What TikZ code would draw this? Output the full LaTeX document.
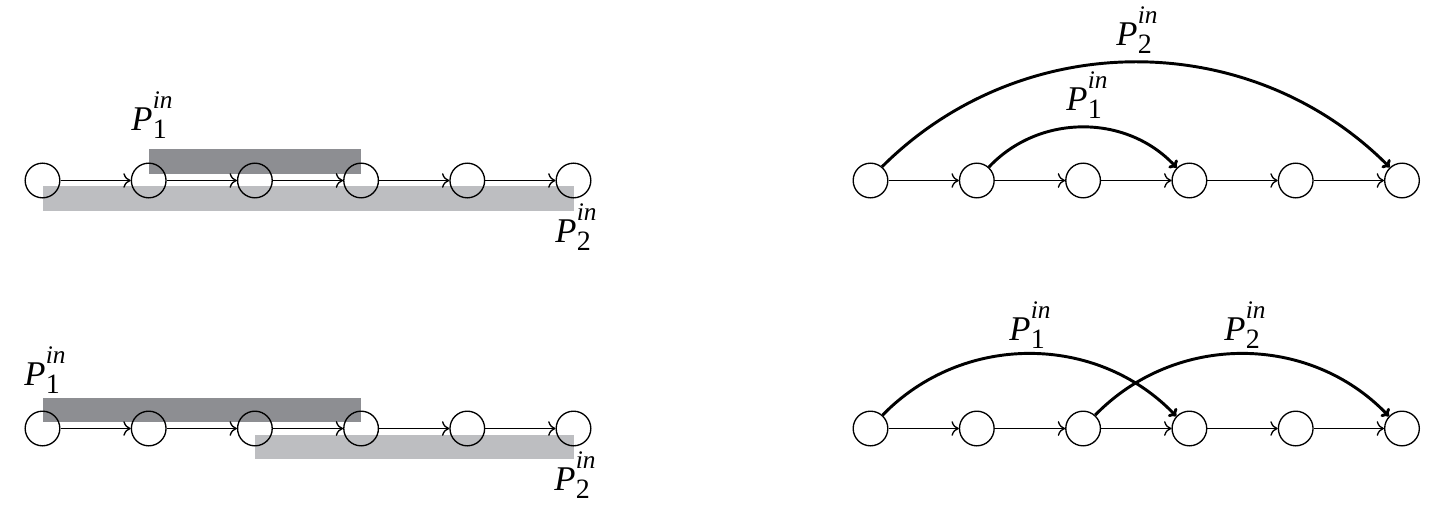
\documentclass[tikz,border=0pt]{standalone}
\usepackage{fontspec}
\setmainfont{Liberation Serif}
\usetikzlibrary{arrows.meta,backgrounds}

\definecolor{darkbar}{RGB}{141,142,146}
\definecolor{lightbar}{RGB}{189,190,193}
%P with large sub- and superscript, as in the picture
\newcommand{\pin}[1]{\textit{P}\kern0.3pt\rlap{\raisebox{-6pt}{\fontsize{21}{21}\selectfont #1}}\raisebox{16pt}{\fontsize{19}{19}\selectfont\textit{in}}}

\tikzset{
  vertex/.style={circle,draw,line width=1pt,minimum size=26pt,inner sep=0pt},
  flow/.style={-{To[length=5.5pt,width=11pt]},line width=1pt},
  jump/.style={-{To[length=5pt,width=9pt]},line width=2.2pt},
  plbl/.style={anchor=base west,inner sep=0pt,font=\fontsize{26}{30}\selectfont},
}

\begin{document}
\begin{tikzpicture}[x=0.75pt,y=0.75pt,yscale=-1,xscale=1]
\useasboundingbox (0,0) rectangle (1445,514);

%Top left chain
\node [vertex] (a1) at (42.5,180.5) {};
\node [vertex] (a2) at (148.7,180.5) {};
\node [vertex] (a3) at (254.9,180.5) {};
\node [vertex] (a4) at (361.1,180.5) {};
\node [vertex] (a5) at (467.3,180.5) {};
\node [vertex] (a6) at (573.5,180.5) {};
%Bottom left chain
\node [vertex] (b1) at (42.5,428.5) {};
\node [vertex] (b2) at (148.7,428.5) {};
\node [vertex] (b3) at (254.9,428.5) {};
\node [vertex] (b4) at (361.1,428.5) {};
\node [vertex] (b5) at (467.3,428.5) {};
\node [vertex] (b6) at (573.5,428.5) {};
%Top right chain
\node [vertex] (c1) at (870.5,180.5) {};
\node [vertex] (c2) at (976.8,180.5) {};
\node [vertex] (c3) at (1083.1,180.5) {};
\node [vertex] (c4) at (1189.4,180.5) {};
\node [vertex] (c5) at (1295.7,180.5) {};
\node [vertex] (c6) at (1402,180.5) {};
%Bottom right chain
\node [vertex] (d1) at (870.5,428.5) {};
\node [vertex] (d2) at (976.8,428.5) {};
\node [vertex] (d3) at (1083.1,428.5) {};
\node [vertex] (d4) at (1189.4,428.5) {};
\node [vertex] (d5) at (1295.7,428.5) {};
\node [vertex] (d6) at (1402,428.5) {};

%Shaded bars (y runs downwards, so a negative yshift moves up)
\begin{scope}[on background layer]
\fill [darkbar] ([yshift=-23.3pt]a2.center) rectangle ([yshift=-4.9pt]a4.center);
\fill [lightbar] ([yshift=4.2pt]a1.center) rectangle ([yshift=22.9pt]a6.center);
\fill [darkbar] ([yshift=-22.9pt]b1.center) rectangle ([yshift=-4.9pt]b4.center);
\fill [lightbar] ([yshift=4.9pt]b3.center) rectangle ([yshift=22.9pt]b6.center);
\end{scope}

%Straight Lines
\path (a1) edge [flow] (a2) (a2) edge [flow] (a3) (a3) edge [flow] (a4) (a4) edge [flow] (a5) (a5) edge [flow] (a6);
\path (b1) edge [flow] (b2) (b2) edge [flow] (b3) (b3) edge [flow] (b4) (b4) edge [flow] (b5) (b5) edge [flow] (b6);
\path (c1) edge [flow] (c2) (c2) edge [flow] (c3) (c3) edge [flow] (c4) (c4) edge [flow] (c5) (c5) edge [flow] (c6);
\path (d1) edge [flow] (d2) (d2) edge [flow] (d3) (d3) edge [flow] (d4) (d4) edge [flow] (d5) (d5) edge [flow] (d6);

%Curve Lines
\draw [jump] (c1.50) to [bend right=45] (c6.133);
\draw [jump] (c2.48) to [bend right=47] (c4.135);
\draw [jump] (d1.48) to [bend right=46] (d4.137);
\draw [jump] (d3.48) to [bend right=46] (d6.137);

% Text Node
\node [plbl] (la1) at (131,130) {\pin{1}};
% Text Node
\node [plbl] (la2) at (555,242) {\pin{2}};
% Text Node
\node [plbl] (lb1) at (24,385) {\pin{1}};
% Text Node
\node [plbl] (lb2) at (554,490) {\pin{2}};
% Text Node
\node [plbl] (lc2) at (1116,45) {\pin{2}};
% Text Node
\node [plbl] (lc1) at (1066,110) {\pin{1}};
% Text Node
\node [plbl] (ld1) at (1009,340) {\pin{1}};
% Text Node
\node [plbl] (ld2) at (1224,340) {\pin{2}};

\end{tikzpicture}
\end{document}
